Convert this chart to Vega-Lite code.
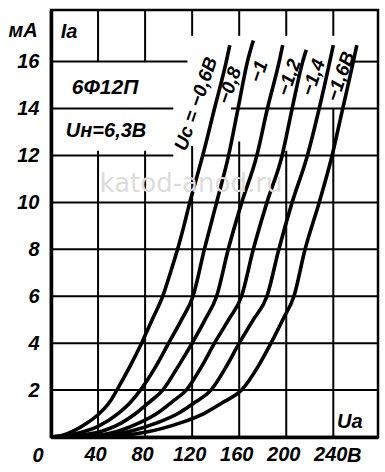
{
  "$schema": "https://vega.github.io/schema/vega-lite/v6.json",
  "width": 327,
  "height": 427,
  "autosize": {"type": "none"},
  "padding": {"left": 51, "top": 10, "right": 7, "bottom": 35},
  "background": "white",
  "config": {
    "view": {"stroke": "black", "strokeWidth": 2.5},
    "axis": {"grid": false}
  },
  "datasets": {
    "curves": [
      {"s": "-0,6", "v": 0, "i": 0}, {"s": "-0,6", "v": 10, "i": 0.07}, {"s": "-0,6", "v": 20, "i": 0.28}, {"s": "-0,6", "v": 30, "i": 0.58}, {"s": "-0,6", "v": 40, "i": 0.95}, {"s": "-0,6", "v": 50, "i": 1.5}, {"s": "-0,6", "v": 56, "i": 2}, {"s": "-0,6", "v": 67, "i": 3}, {"s": "-0,6", "v": 77, "i": 4}, {"s": "-0,6", "v": 86, "i": 5}, {"s": "-0,6", "v": 95, "i": 6}, {"s": "-0,6", "v": 101.5, "i": 7}, {"s": "-0,6", "v": 107.6, "i": 8}, {"s": "-0,6", "v": 113, "i": 9}, {"s": "-0,6", "v": 118, "i": 10}, {"s": "-0,6", "v": 123.5, "i": 11}, {"s": "-0,6", "v": 129, "i": 12}, {"s": "-0,6", "v": 139, "i": 14}, {"s": "-0,6", "v": 149, "i": 16}, {"s": "-0,6", "v": 152, "i": 16.7},
      {"s": "-0,8", "v": 0, "i": 0}, {"s": "-0,8", "v": 20, "i": 0.13}, {"s": "-0,8", "v": 40, "i": 0.45}, {"s": "-0,8", "v": 57, "i": 1}, {"s": "-0,8", "v": 67, "i": 1.45}, {"s": "-0,8", "v": 76, "i": 2}, {"s": "-0,8", "v": 89, "i": 3}, {"s": "-0,8", "v": 100, "i": 4}, {"s": "-0,8", "v": 111, "i": 5}, {"s": "-0,8", "v": 120.7, "i": 6}, {"s": "-0,8", "v": 130.4, "i": 8}, {"s": "-0,8", "v": 140.8, "i": 10}, {"s": "-0,8", "v": 151, "i": 12}, {"s": "-0,8", "v": 159, "i": 14}, {"s": "-0,8", "v": 167, "i": 16}, {"s": "-0,8", "v": 172, "i": 16.9},
      {"s": "-1", "v": 0, "i": 0}, {"s": "-1", "v": 20, "i": 0.06}, {"s": "-1", "v": 40, "i": 0.2}, {"s": "-1", "v": 60, "i": 0.6}, {"s": "-1", "v": 72, "i": 1}, {"s": "-1", "v": 84, "i": 1.5}, {"s": "-1", "v": 95, "i": 2}, {"s": "-1", "v": 108, "i": 3}, {"s": "-1", "v": 120, "i": 4}, {"s": "-1", "v": 131, "i": 5}, {"s": "-1", "v": 140.8, "i": 6}, {"s": "-1", "v": 150.7, "i": 8}, {"s": "-1", "v": 162.2, "i": 10}, {"s": "-1", "v": 175, "i": 12}, {"s": "-1", "v": 184, "i": 14}, {"s": "-1", "v": 194, "i": 16}, {"s": "-1", "v": 197, "i": 16.7},
      {"s": "-1,2", "v": 0, "i": 0}, {"s": "-1,2", "v": 40, "i": 0.08}, {"s": "-1,2", "v": 60, "i": 0.3}, {"s": "-1,2", "v": 75, "i": 0.6}, {"s": "-1,2", "v": 90, "i": 1}, {"s": "-1,2", "v": 103, "i": 1.5}, {"s": "-1,2", "v": 115, "i": 2}, {"s": "-1,2", "v": 128, "i": 3}, {"s": "-1,2", "v": 139, "i": 4}, {"s": "-1,2", "v": 151, "i": 5}, {"s": "-1,2", "v": 162, "i": 6}, {"s": "-1,2", "v": 172, "i": 8}, {"s": "-1,2", "v": 183.6, "i": 10}, {"s": "-1,2", "v": 196.5, "i": 12}, {"s": "-1,2", "v": 205, "i": 14}, {"s": "-1,2", "v": 214, "i": 16}, {"s": "-1,2", "v": 217, "i": 16.5},
      {"s": "-1,4", "v": 0, "i": 0}, {"s": "-1,4", "v": 40, "i": 0.04}, {"s": "-1,4", "v": 70, "i": 0.28}, {"s": "-1,4", "v": 90, "i": 0.6}, {"s": "-1,4", "v": 108, "i": 1}, {"s": "-1,4", "v": 123, "i": 1.5}, {"s": "-1,4", "v": 136, "i": 2}, {"s": "-1,4", "v": 149, "i": 3}, {"s": "-1,4", "v": 160, "i": 4}, {"s": "-1,4", "v": 172, "i": 5}, {"s": "-1,4", "v": 183.6, "i": 6}, {"s": "-1,4", "v": 193.7, "i": 8}, {"s": "-1,4", "v": 205, "i": 10}, {"s": "-1,4", "v": 218, "i": 12}, {"s": "-1,4", "v": 228, "i": 14}, {"s": "-1,4", "v": 237, "i": 16}, {"s": "-1,4", "v": 240, "i": 16.7},
      {"s": "-1,6", "v": 0, "i": 0}, {"s": "-1,6", "v": 40, "i": 0.02}, {"s": "-1,6", "v": 80, "i": 0.2}, {"s": "-1,6", "v": 110, "i": 0.6}, {"s": "-1,6", "v": 130, "i": 1}, {"s": "-1,6", "v": 147, "i": 1.5}, {"s": "-1,6", "v": 162, "i": 2}, {"s": "-1,6", "v": 176, "i": 3}, {"s": "-1,6", "v": 187, "i": 4}, {"s": "-1,6", "v": 197, "i": 5}, {"s": "-1,6", "v": 206.5, "i": 6}, {"s": "-1,6", "v": 216, "i": 8}, {"s": "-1,6", "v": 228, "i": 10}, {"s": "-1,6", "v": 239, "i": 12}, {"s": "-1,6", "v": 248, "i": 14}, {"s": "-1,6", "v": 257, "i": 16}, {"s": "-1,6", "v": 260, "i": 16.7}
    ],
    "gridV": [
      {"v": 40, "i": 0, "i2": 12.2}, {"v": 40, "i": 16, "i2": 18.2},
      {"v": 80, "i": 0, "i2": 12.2}, {"v": 80, "i": 16, "i2": 18.2},
      {"v": 120, "i": 0, "i2": 12.4}, {"v": 120, "i": 17.1, "i2": 18.2},
      {"v": 160, "i": 0, "i2": 12.6}, {"v": 160, "i": 17.1, "i2": 18.2},
      {"v": 200, "i": 0, "i2": 12.2}, {"v": 200, "i": 17.1, "i2": 18.2},
      {"v": 240, "i": 0, "i2": 14}, {"v": 240, "i": 17.1, "i2": 18.2}
    ],
    "gridH": [
      {"i": 2, "v": 0, "v2": 278}, {"i": 4, "v": 0, "v2": 278}, {"i": 6, "v": 0, "v2": 278},
      {"i": 8, "v": 0, "v2": 278}, {"i": 10, "v": 0, "v2": 278},
      {"i": 12, "v": 0, "v2": 104}, {"i": 12, "v": 128, "v2": 278},
      {"i": 14, "v": 0, "v2": 104}, {"i": 14, "v": 153, "v2": 278},
      {"i": 16, "v": 0, "v2": 116}, {"i": 16, "v": 256, "v2": 278}
    ]
  },
  "encoding": {
    "x": {
      "field": "v", "type": "quantitative",
      "scale": {"domain": [0, 278], "nice": false},
      "axis": {"values": [40, 80, 120, 160, 200, 240], "title": null, "ticks": false, "domain": true, "domainWidth": 3.5, "domainColor": "black", "labelFont": "Liberation Sans", "labelFontSize": 20, "labelFontStyle": "italic", "labelFontWeight": "bold", "labelColor": "black", "labelPadding": 7, "labelOffset": -3, "labelFlush": false, "labelOverlap": false}
    },
    "y": {
      "field": "i", "type": "quantitative",
      "scale": {"domain": [0, 18.2], "nice": false},
      "axis": {"values": [2, 4, 6, 8, 10, 12, 14, 16], "title": null, "ticks": false, "domain": true, "domainWidth": 3.5, "domainColor": "black", "labelFont": "Liberation Sans", "labelFontSize": 20, "labelFontStyle": "italic", "labelFontWeight": "bold", "labelColor": "black", "labelPadding": 12, "labelFlush": false, "labelOverlap": false}
    }
  },
  "layer": [
    {
      "data": {"name": "gridV"},
      "mark": {"type": "rule", "color": "black", "strokeWidth": 2},
      "encoding": {"y2": {"field": "i2"}}
    },
    {
      "data": {"name": "gridH"},
      "mark": {"type": "rule", "color": "black", "strokeWidth": 2},
      "encoding": {"x2": {"field": "v2"}}
    },
    {
      "data": {"name": "curves"},
      "mark": {"type": "line", "interpolate": "monotone", "strokeWidth": 3.6, "color": "black"},
      "encoding": {"detail": {"field": "s"}}
    },
    {
      "data": {"values": [{"v": 119, "i": 10.8, "t": "katod-anod.ru"}]},
      "mark": {"type": "text", "font": "DejaVu Sans", "fontSize": 26, "color": "#dcdcdc", "align": "center", "baseline": "middle"},
      "encoding": {"text": {"field": "t"}}
    },
    {
      "data": {"values": [
        {"v": 123.3, "i": 14.2, "t": "Uс = −0,6В"},
        {"v": 151.9, "i": 14.98, "t": "−0,8"},
        {"v": 176.7, "i": 15.58, "t": "−1"},
        {"v": 202.5, "i": 15.32, "t": "−1,2"},
        {"v": 223, "i": 15.32, "t": "−1,4"},
        {"v": 246.2, "i": 15.36, "t": "−1,6В"}
      ]},
      "mark": {"type": "text", "angle": 289, "font": "Liberation Sans", "fontSize": 19, "fontStyle": "italic", "fontWeight": "bold", "color": "black", "align": "center", "baseline": "middle"},
      "encoding": {"text": {"field": "t"}}
    },
    {
      "data": {"values": [
        {"v": 15.3, "i": 17.27, "t": "Iа"},
        {"v": 46.8, "i": 13.05, "t": "Uн=6,3В"},
        {"v": 254, "i": 0.64, "t": "Uа"}
      ]},
      "mark": {"type": "text", "font": "Liberation Sans", "fontSize": 20, "fontStyle": "italic", "fontWeight": "bold", "color": "black", "align": "center", "baseline": "middle"},
      "encoding": {"text": {"field": "t"}}
    },
    {
      "data": {"values": [{"v": 45.9, "i": 14.88, "t": "6Ф12П"}]},
      "mark": {"type": "text", "font": "Liberation Sans", "fontSize": 21, "fontStyle": "italic", "fontWeight": "bold", "color": "black", "align": "center", "baseline": "middle"},
      "encoding": {"text": {"field": "t"}}
    },
    {
      "data": {"values": [{"v": 0, "i": 0, "t": "0"}]},
      "mark": {"type": "text", "dx": -13, "dy": 19, "font": "Liberation Sans", "fontSize": 20, "fontStyle": "italic", "fontWeight": "bold", "color": "black", "align": "center", "baseline": "middle"},
      "encoding": {"text": {"field": "t"}}
    },
    {
      "data": {"values": [{"v": 240, "i": 0, "t": "В"}]},
      "mark": {"type": "text", "dx": 21, "dy": 19, "font": "Liberation Sans", "fontSize": 20, "fontStyle": "italic", "fontWeight": "bold", "color": "black", "align": "center", "baseline": "middle"},
      "encoding": {"text": {"field": "t"}}
    },
    {
      "data": {"values": [{"v": 0, "i": 18.2, "t": "мА"}]},
      "mark": {"type": "text", "dx": -28, "dy": 21, "font": "Liberation Sans", "fontSize": 20, "fontStyle": "italic", "fontWeight": "bold", "color": "black", "align": "center", "baseline": "middle"},
      "encoding": {"text": {"field": "t"}}
    }
  ]
}
